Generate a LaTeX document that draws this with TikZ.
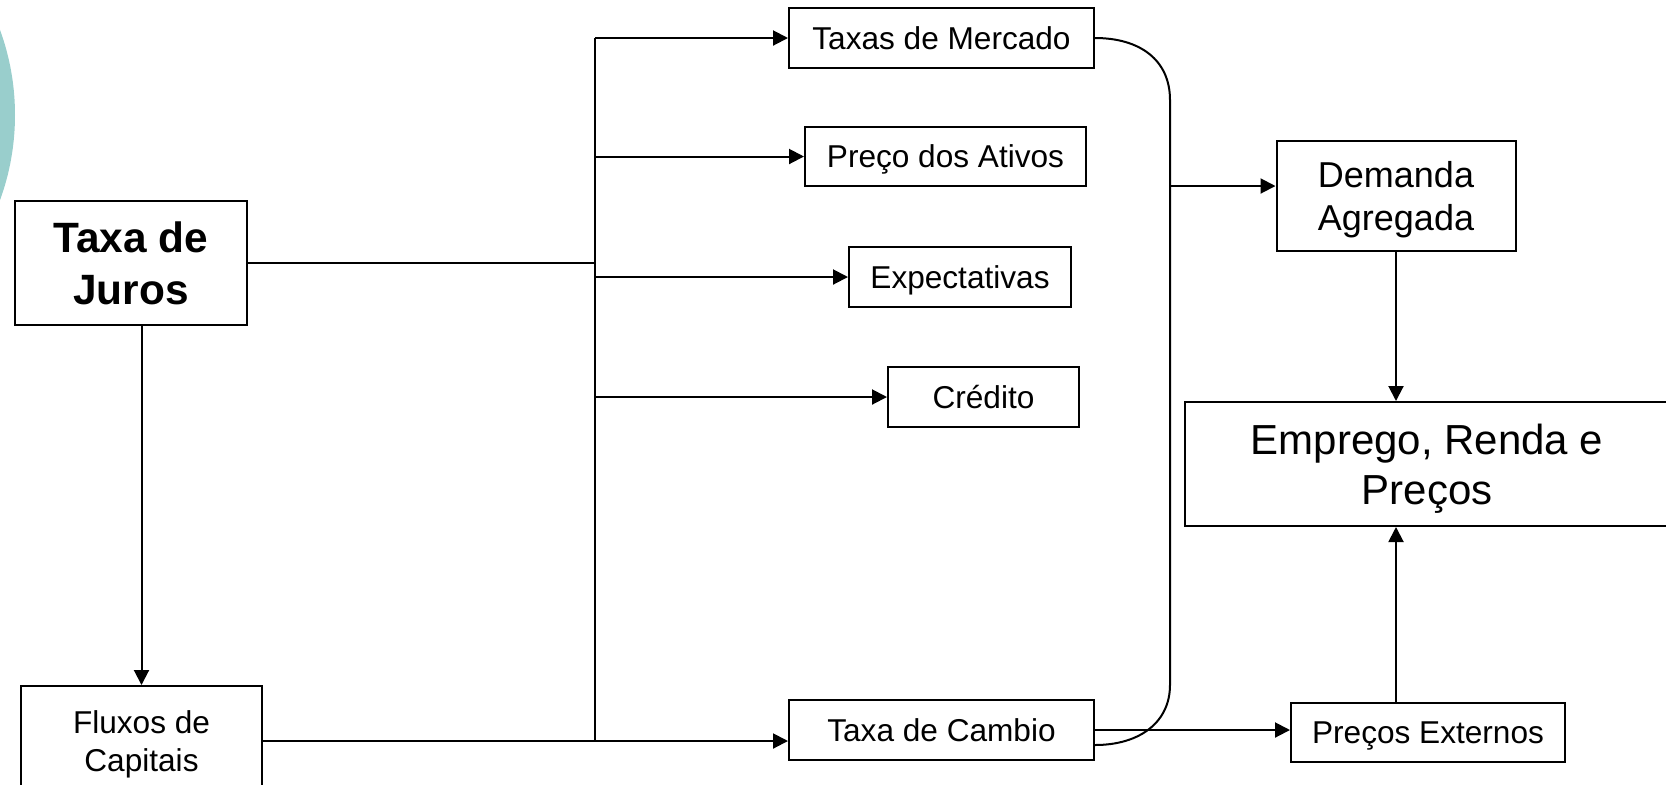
\documentclass[tikz,border=0pt]{standalone}
\usepackage{fontspec}
\setmainfont{Liberation Sans}
\usepackage{tikz}
\usetikzlibrary{positioning,calc,arrows.meta}
\definecolor{tealarc}{RGB}{153,206,204}
\tikzset{
  box/.style={rectangle,draw,line width=1pt,inner sep=0pt,align=center,text depth=0pt},
  smalltext/.style={font=\fontsize{15.8}{19}\selectfont},
  midtext/.style={font=\fontsize{18}{21.5}\selectfont},
  bigtext/.style={font=\fontsize{21}{25}\selectfont},
  boldtext/.style={font=\fontsize{21.2}{26}\selectfont\bfseries},
  link/.style={line width=1pt},
  arr/.style={line width=1pt,-{Triangle[length=7.5pt,width=7.5pt]}}
}

\begin{document}
\begin{tikzpicture}[x=0.5pt,y=-0.5pt]
    \useasboundingbox (0,0) rectangle (1666,784);
    \fill[tealarc] (-233,115) circle (124pt);

    \node[box,boldtext,minimum width=116pt,minimum height=62pt] (juros) at (131,263) {Taxa de\\Juros};
    \node[box,smalltext,minimum width=120.5pt,minimum height=55pt] (fluxos) at (141.5,741) {Fluxos de\\Capitais};
    \node[box,smalltext,minimum width=152.5pt,minimum height=30pt] (mercado) at (941.5,38) {Taxas de Mercado};
    \node[box,smalltext,minimum width=140.5pt,minimum height=29.5pt] (ativos) at (945.5,156.5) {Preço dos Ativos};
    \node[box,smalltext,minimum width=111pt,minimum height=30pt] (expect) at (960,277) {Expectativas};
    \node[box,smalltext,minimum width=95.5pt,minimum height=30pt] (credito) at (983.5,397) {Crédito};
    \node[box,smalltext,minimum width=152.5pt,minimum height=30pt] (cambio) at (941.5,730) {Taxa de Cambio};
    \node[box,midtext,minimum width=119.5pt,minimum height=55pt] (demanda) at (1396,196) {Demanda\\Agregada};
    \node[box,bigtext,minimum width=242pt,minimum height=62pt] (emprego) at (1427,464) {Emprego, Renda e\\Preços};
    \node[box,smalltext,minimum width=137pt,minimum height=29.5pt] (precos) at (1428,732.5) {Preços Externos};

    \coordinate (bus) at (595,0);
    \coordinate (curva) at (1170,0);

    \draw[link] (juros.east) -- (juros.east -| bus);
    \draw[link] (bus |- mercado.west) -- (bus |- fluxos.east);
    \foreach \n in {mercado,ativos,expect,credito}
        \draw[arr] (bus |- \n.west) -- (\n.west);
    \draw[arr] (fluxos.east) -- (fluxos.east -| cambio.west);
    \draw[arr] (juros.south -| fluxos.north) -- (fluxos.north);

    \draw[link] (mercado.east) .. controls (1140,38) and (1170,60) .. (1170,100)
        -- (1170,685) .. controls (1170,722) and (1140,745) .. ($(cambio.east)+(0,15)$);
    \draw[arr] ($(curva |- demanda.west)+(0,-10)$) -- ($(demanda.west)+(0,-10)$);
    \draw[arr] (demanda.south) -- (demanda.south |- emprego.north);
    \draw[arr] (precos.north -| demanda.south) -- (demanda.south |- emprego.south);
    \draw[arr] (cambio.east) -- (cambio.east -| precos.west);
\end{tikzpicture}
\end{document}
